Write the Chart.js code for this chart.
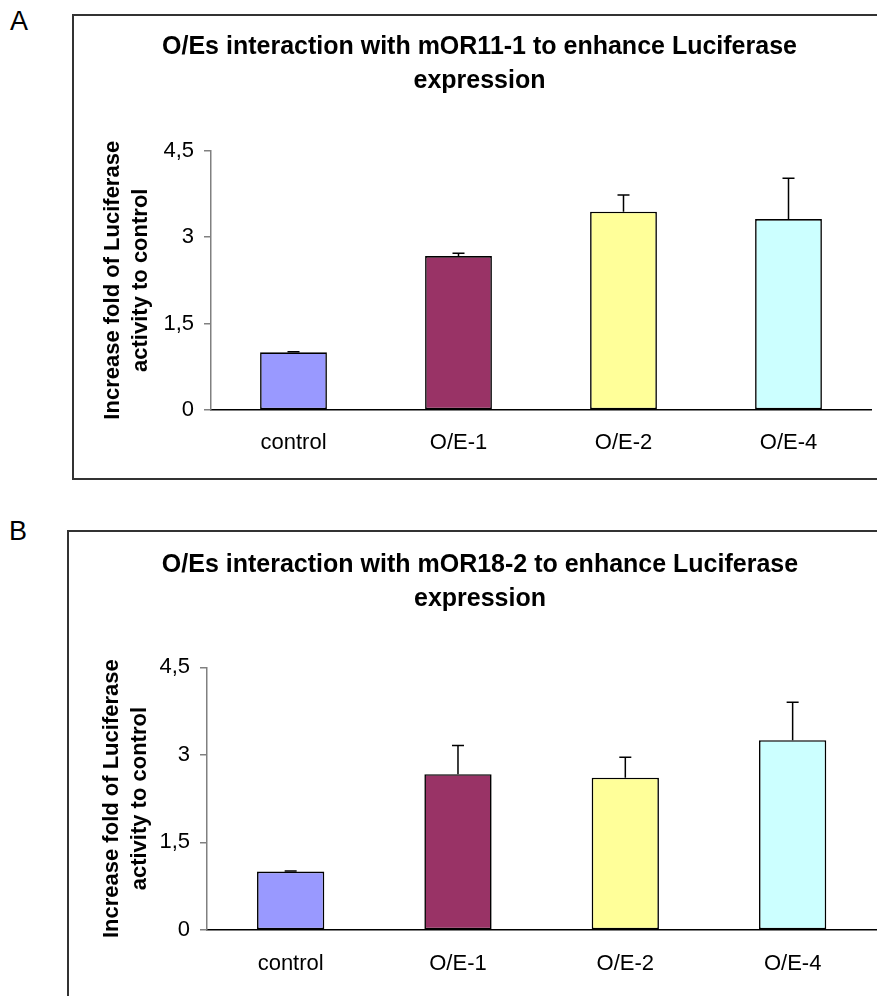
<!DOCTYPE html>
<html><head><meta charset="utf-8">
<script src="https://cdn.jsdelivr.net/npm/chart.js@4.4.0/dist/chart.umd.min.js"></script>
<style>
html,body{margin:0;padding:0;background:#fff;overflow:hidden;width:877px;height:996px;position:relative;}
.box{position:absolute;border:2px solid #333;box-sizing:border-box;pointer-events:none;}
canvas{position:absolute;}
.lbl{position:absolute;font-family:'Liberation Sans',Arial,sans-serif;font-size:27px;color:#000;line-height:1;}
</style></head><body>
<div class="lbl" style="left:10px;top:8px;">A</div>
<div class="lbl" style="left:9px;top:518px;">B</div>
<canvas id="cA" width="813" height="464" style="left:73px;top:15px;"></canvas>
<canvas id="cB" width="824" height="475" style="left:68px;top:531px;"></canvas>
<div class="box" style="left:72px;top:14px;width:900px;height:466px;"></div>
<div class="box" style="left:67px;top:530px;width:900px;height:600px;"></div>
<script>
const categories = ['control', 'O/E-1', 'O/E-2', 'O/E-4'];
const valuesA = [1.00, 2.67, 3.44, 3.31];
const errorsA = [0.01, 0.05, 0.29, 0.71];
const valuesB = [1.00, 2.67, 2.61, 3.25];
const errorsB = [0.01, 0.49, 0.35, 0.65];
const yTickValues = [0, 1.5, 3, 4.5];
const yTickLabels = ['0', '1,5', '3', '4,5'];
const titleA = ['O/Es interaction with mOR11-1 to enhance Luciferase', 'expression'];
const titleB = ['O/Es interaction with mOR18-2 to enhance Luciferase', 'expression'];
const yTitle = ['Increase fold of Luciferase', 'activity to control'];
const barColors = ['#9999FF', '#993366', '#FFFF99', '#CCFFFF'];

const FONT = "'Liberation Sans', Arial, sans-serif";

const errorBars = {
  id: 'errorBars',
  afterDatasetsDraw(chart, args, opts) {
    const ctx = chart.ctx;
    const ys = chart.scales.y;
    const meta = chart.getDatasetMeta(0);
    const ds = chart.data.datasets[0];
    ctx.save();
    ctx.strokeStyle = '#000';
    ctx.lineWidth = 1.5;
    meta.data.forEach((bar, i) => {
      const top = ys.getPixelForValue(ds.data[i] + opts.errors[i]);
      ctx.beginPath();
      ctx.moveTo(bar.x, bar.y);
      ctx.lineTo(bar.x, top);
      ctx.moveTo(bar.x - 6, top);
      ctx.lineTo(bar.x + 6, top);
      ctx.stroke();
    });
    ctx.restore();
  }
};

function makeChart(id, values, errors, title, g) {
  return new Chart(document.getElementById(id), {
    type: 'bar',
    data: {
      labels: categories,
      datasets: [{
        data: values,
        backgroundColor: barColors,
        borderColor: '#000',
        borderWidth: 1.6,
        borderSkipped: false,
        categoryPercentage: 1,
        barPercentage: g.barPct
      }]
    },
    plugins: [errorBars],
    options: {
      responsive: false,
      animation: false,
      devicePixelRatio: 1,
      layout: { padding: { left: g.padLeft, right: g.padRight, top: 0, bottom: 0 } },
      plugins: {
        legend: { display: false },
        tooltip: { enabled: false },
        errorBars: { errors: errors },
        title: {
          display: true,
          text: title,
          color: '#000',
          font: { family: FONT, size: 25, weight: 'bold', lineHeight: 34 / 25 },
          padding: { top: g.titleTop, bottom: g.titleBottom }
        }
      },
      scales: {
        x: {
          grid: { display: false, drawTicks: false },
          border: { display: true, color: '#000', width: 1.5 },
          ticks: { color: '#000', font: { family: FONT, size: 22 }, padding: g.xPad },
          afterFit: s => { s.height = g.xHeight; }
        },
        y: {
          min: 0, max: 4.5,
          afterBuildTicks: s => { s.ticks = yTickValues.map(v => ({ value: v })); },
          grid: { drawOnChartArea: false, drawTicks: true, tickLength: 7, color: '#808080', lineWidth: 1.5 },
          border: { display: true, color: '#808080', width: 1.5 },
          ticks: {
            color: '#000', font: { family: FONT, size: 22 }, padding: 10,
            callback: (v, i) => yTickLabels[i]
          },
          title: {
            display: true, text: yTitle, color: '#000',
            font: { family: FONT, size: 22, weight: 'bold', lineHeight: 28 / 22 },
            padding: { top: g.yTitleTop, bottom: 0 }
          },
          afterFit: s => { s.width = g.yWidth; }
        }
      }
    }
  });
}

makeChart('cA', valuesA, errorsA, titleA, {
  barPct: 0.405, padLeft: 15, padRight: 15, titleTop: 15, titleBottom: 52.5,
  xPad: 20, xHeight: 69, yTitleTop: 11, yWidth: 123
});
makeChart('cB', valuesB, errorsB, titleB, {
  barPct: 0.402, padLeft: 15.7, padRight: 15.7, titleTop: 17, titleBottom: 51.3,
  xPad: 21, xHeight: 76, yTitleTop: 14.3, yWidth: 123.3
});
</script>
</body></html>
